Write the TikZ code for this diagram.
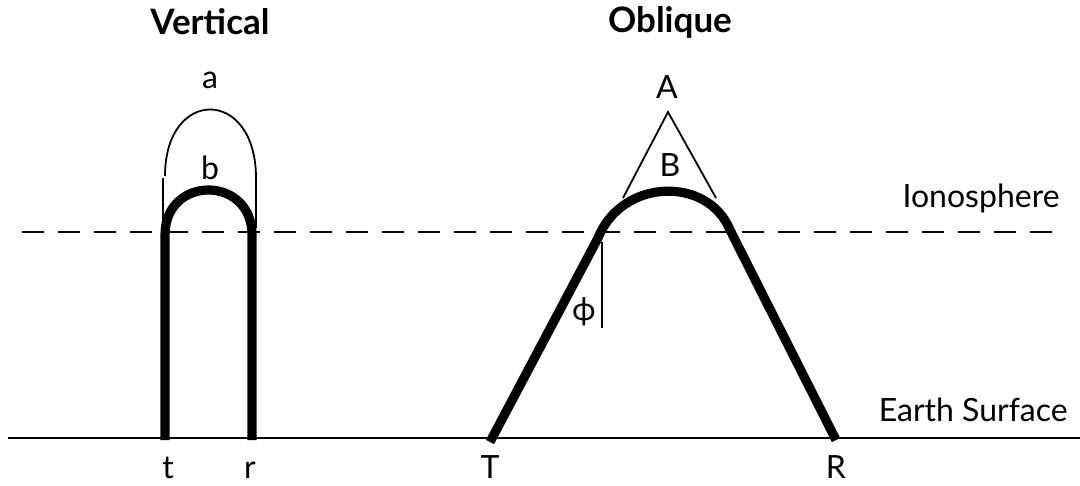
\documentclass[tikz,border=0pt]{standalone}
\usepackage{fontspec}
\setmainfont{Lato}
\begin{document}
\begin{tikzpicture}[x=0.5pt,y=-0.5pt,
  lbl/.style={font=\fontsize{16}{18}\selectfont, inner sep=0pt},
  ttl/.style={font=\fontsize{17.5}{20}\selectfont\bfseries, inner sep=0pt},
  ray/.style={line width=4.6pt},
  thin/.style={line width=0.9pt},
  ground/.style={line width=1.4pt},
  iono/.style={line width=0.9pt, dash pattern=on 11pt off 7pt}]
\useasboundingbox (0,0) rectangle (1080,486);
% titles
\node[ttl] (tv) at (210,22) {Vertical};
\node[ttl] (to) at (670,22) {Oblique};
% reference lines
\coordinate (g0) at (8,438); \coordinate (g1) at (1080,438);
\draw[ground] (g0) -- (g1);
\coordinate (i0) at (22,232); \coordinate (i1) at (1052,232);
\draw[iono] (i0) -- (i1);
\node[lbl, anchor=east] (ion) at (1060,198) {Ionosphere};
\node[lbl, anchor=east] (earth) at (1068,410) {Earth Surface};
% vertical
\coordinate (t) at (165,440); \coordinate (r) at (252,440);
\coordinate (tl) at (165,235); \coordinate (rl) at (252,235);
\draw[ray] (t) -- (tl) .. controls (165,175) and (252,175) .. (rl) -- (r);
\coordinate (a0) at (165,176); \coordinate (a1) at (256,178); \coordinate (a2) at (256,228);
\draw[thin] (a0) .. controls (165,87) and (256,87) .. (a1) -- (a2);
\coordinate (k0) at (163,178); \coordinate (k1) at (163,226);
\draw[thin] (k0) -- (k1);
\node[lbl] (la) at (210,80) {a};
\node[lbl] (lb) at (210,168) {b};
\node[lbl, anchor=base] (lt) at (168,478) {t};
\node[lbl, anchor=base] (lr) at (250,478) {r};
% oblique
\coordinate (T) at (490,442); \coordinate (R) at (836,440);
\coordinate (Tl) at (598,238); \coordinate (Rl) at (730,230);
\draw[ray] (T) -- (Tl) .. controls (622,178) and (708,176) .. (Rl) -- (R);
\coordinate (A) at (668,112);
\coordinate (B0) at (623,198); \coordinate (B1) at (716,198);
\draw[thin] (B0) -- (A) -- (B1);
\node[lbl] (lA) at (667,87) {A};
\node[lbl] (lB) at (670,165) {B};
\coordinate (p0) at (602,242); \coordinate (p1) at (602,328);
\draw[thin] (p0) -- (p1);
\node[lbl] (lphi) at (584,312) {ϕ};
\node[lbl, anchor=base] (lT) at (490,478) {T};
\node[lbl, anchor=base] (lR) at (836,478) {R};
\end{tikzpicture}
\end{document}
